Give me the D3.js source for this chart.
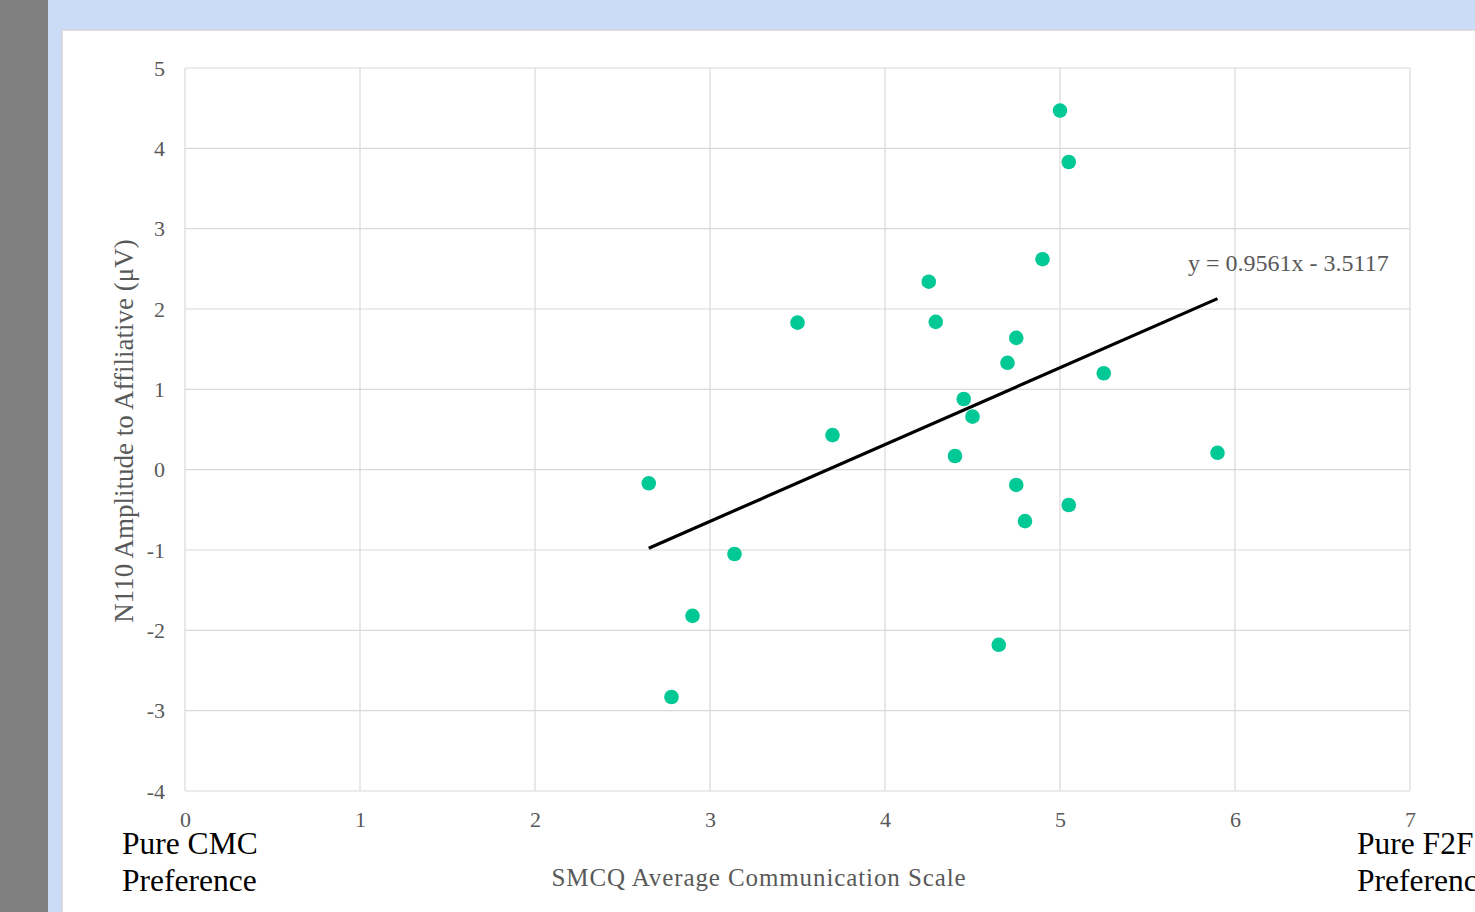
<!DOCTYPE html>
<html>
<head>
<meta charset="utf-8">
<script src="https://cdn.jsdelivr.net/npm/d3@7"></script>
<style>
  html, body { margin: 0; padding: 0; background: #cbdcf8; overflow: hidden; }
  svg { display: block; }
  text { font-family: "Liberation Serif", "Times New Roman", serif; }
</style>
</head>
<body>
<svg id="chart" width="1475" height="912"></svg>
<script>
// SMCQ score vs. N110 amplitude, one entry per participant
const smcq = [5.00, 5.05, 4.90, 4.25, 3.50, 4.29, 4.75, 4.70, 5.25, 4.45, 4.50, 3.70, 4.40, 5.90, 2.65, 4.75, 5.05, 4.80, 3.14, 2.90, 4.65, 2.78];
const n110 = [4.47, 3.83, 2.62, 2.34, 1.83, 1.84, 1.64, 1.33, 1.20, 0.88, 0.66, 0.43, 0.17, 0.21, -0.17, -0.19, -0.44, -0.64, -1.05, -1.82, -2.18, -2.83];

// Linear trend line
const slope = 0.9561;
const intercept = -3.5117;

const xTicks = [0, 1, 2, 3, 4, 5, 6, 7];
const yTicks = [5, 4, 3, 2, 1, 0, -1, -2, -3, -4];

const svg = d3.select("#chart");

// page frame
svg.append("rect").attr("x", 0).attr("y", 0).attr("width", 48).attr("height", 912).attr("fill", "#808080");
svg.append("rect").attr("x", 62).attr("y", 30).attr("width", 1420).attr("height", 900)
  .attr("fill", "#ffffff").attr("stroke", "#d6d6d6").attr("stroke-width", 1.5);

const plot = { left: 185, top: 68, right: 1410, bottom: 791 };

const x = d3.scaleLinear().domain([0, 7]).range([plot.left, plot.right]);
const y = d3.scaleLinear().domain([-4, 5]).range([plot.bottom, plot.top]);

// gridlines
const grid = svg.append("g");
grid.selectAll(".gx").data(xTicks).join("line")
  .attr("x1", d => x(d)).attr("x2", d => x(d))
  .attr("y1", plot.top).attr("y2", plot.bottom)
  .attr("stroke", "#d9d9d9").attr("stroke-width", 1.2);
grid.selectAll(".gy").data(yTicks).join("line")
  .attr("x1", plot.left).attr("x2", plot.right)
  .attr("y1", d => y(d)).attr("y2", d => y(d))
  .attr("stroke", "#d9d9d9").attr("stroke-width", 1.2);

// tick labels via d3 axes (no domain line, no tick marks)
const xAxis = svg.append("g")
  .attr("transform", `translate(0,${plot.bottom})`)
  .call(d3.axisBottom(x).tickValues(xTicks).tickSize(0).tickPadding(20).tickFormat(d3.format("d")));
const yAxis = svg.append("g")
  .attr("transform", `translate(${plot.left},0)`)
  .call(d3.axisLeft(y).tickValues(yTicks).tickSize(0).tickPadding(20).tickFormat(d => d < 0 ? "-" + Math.abs(d) : d));
[xAxis, yAxis].forEach(a => {
  a.select(".domain").remove();
  a.selectAll("text")
    .attr("font-family", "Liberation Serif, Times New Roman, serif")
    .attr("font-size", 22).attr("fill", "#595959");
});

// trend line over the observed x range
const xMin = d3.min(smcq), xMax = d3.max(smcq);
svg.append("line")
  .attr("x1", x(xMin)).attr("y1", y(slope * xMin + intercept))
  .attr("x2", x(xMax)).attr("y2", y(slope * xMax + intercept))
  .attr("stroke", "#000000").attr("stroke-width", 3.2);

// data points
svg.append("g").selectAll("circle").data(smcq.map((v, i) => [v, n110[i]])).join("circle")
  .attr("cx", d => x(d[0])).attr("cy", d => y(d[1]))
  .attr("r", 7.3).attr("fill", "#00c996");

// equation label
svg.append("text")
  .attr("x", 1188).attr("y", 271)
  .attr("font-size", 24).attr("fill", "#595959")
  .text("y = 0.9561x - 3.5117");

// axis titles
svg.append("text")
  .attr("transform", `translate(133,${431}) rotate(-90)`)
  .attr("text-anchor", "middle").attr("font-size", 27).attr("fill", "#595959")
  .text("N110 Amplitude to Affiliative (μV)");

svg.append("text")
  .attr("x", 759).attr("y", 886)
  .attr("text-anchor", "middle").attr("font-size", 25).attr("fill", "#595959")
  .attr("letter-spacing", 0.9)
  .text("SMCQ Average Communication Scale");

// scale end annotations
const ends = [
  { x: 122, lines: ["Pure CMC", "Preference"] },
  { x: 1357, lines: ["Pure F2F", "Preference"] }
];
ends.forEach(e => {
  const t = svg.append("text").attr("font-size", 31.5).attr("fill", "#000000");
  e.lines.forEach((l, i) => {
    t.append("tspan").attr("x", e.x).attr("y", 854 + i * 37).text(l);
  });
});
</script>
</body>
</html>
